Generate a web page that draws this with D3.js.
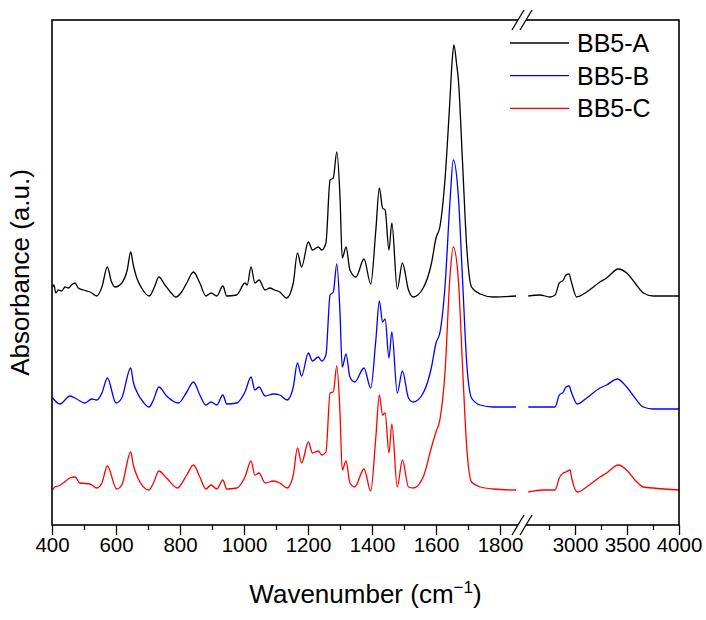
<!DOCTYPE html>
<html>
<head>
<meta charset="utf-8">
<script src="https://cdn.jsdelivr.net/npm/d3@7"></script>
<style>
  body { margin: 0; background: #fff; }
  svg { display: block; font-family: "Liberation Sans", Arial, sans-serif; }
</style>
</head>
<body>
<svg id="chart" width="706" height="620"></svg>
<script>
// series names + colours
const seriesNames = ["BB5-A", "BB5-B", "BB5-C"];
const seriesColors = ["#000000", "#0000ff", "#ff0000"];

// [wavenumber, absorbance (offset, a.u.)]
// low range 400-1850
const bb5aLow = [[402,2.38],[406,2.40],[412,2.32],[420,2.35],[430,2.34],[441,2.38],[451,2.37],[461,2.40],[472,2.42],[482,2.37],[498,2.35],[519,2.33],[540,2.29],[556,2.38],[573,2.58],[585,2.44],[597,2.38],[618,2.42],[635,2.55],[646,2.73],[654,2.60],[665,2.47],[680,2.37],[704,2.29],[720,2.38],[734,2.48],[753,2.40],[770,2.33],[787,2.28],[805,2.33],[821,2.42],[842,2.53],[862,2.42],[881,2.29],[897,2.32],[915,2.29],[934,2.39],[946,2.29],[977,2.30],[1003,2.42],[1010,2.40],[1022,2.58],[1034,2.42],[1047,2.45],[1066,2.35],[1081,2.37],[1095,2.35],[1112,2.33],[1133,2.27],[1154,2.42],[1167,2.72],[1180,2.58],[1201,2.83],[1214,2.75],[1232,2.78],[1243,2.75],[1256,2.82],[1269,3.45],[1279,3.47],[1290,3.73],[1300,3.28],[1307,2.67],[1319,2.78],[1331,2.55],[1350,2.48],[1375,2.66],[1396,2.41],[1412,2.95],[1423,3.37],[1433,3.17],[1441,3.15],[1453,2.75],[1462,3.02],[1479,2.36],[1495,2.62],[1514,2.35],[1529,2.28],[1560,2.37],[1586,2.62],[1600,2.87],[1612,2.98],[1628,3.45],[1644,4.28],[1650,4.62],[1656,4.80],[1664,4.62],[1670,4.45],[1683,3.62],[1696,2.78],[1711,2.38],[1738,2.31],[1779,2.28],[1850,2.29]];
const bb5bLow = [[402,1.27],[425,1.21],[456,1.29],[477,1.26],[503,1.22],[524,1.26],[540,1.25],[556,1.32],[573,1.47],[600,1.22],[618,1.27],[646,1.57],[654,1.43],[667,1.32],[685,1.23],[703,1.18],[717,1.25],[734,1.38],[758,1.29],[795,1.22],[821,1.33],[842,1.43],[862,1.30],[881,1.20],[897,1.23],[915,1.20],[934,1.30],[946,1.21],[977,1.22],[1003,1.33],[1022,1.48],[1034,1.35],[1047,1.38],[1066,1.29],[1092,1.31],[1112,1.30],[1135,1.25],[1154,1.38],[1167,1.62],[1180,1.49],[1201,1.72],[1214,1.64],[1232,1.68],[1243,1.64],[1256,1.70],[1269,2.30],[1279,2.33],[1290,2.61],[1300,2.12],[1307,1.58],[1319,1.71],[1331,1.48],[1346,1.43],[1375,1.57],[1396,1.37],[1412,1.85],[1423,2.24],[1433,2.03],[1441,2.06],[1453,1.67],[1462,1.93],[1479,1.32],[1495,1.54],[1514,1.27],[1529,1.23],[1560,1.32],[1586,1.58],[1600,1.82],[1612,1.92],[1628,2.38],[1644,3.25],[1654,3.65],[1670,3.28],[1683,2.45],[1696,1.62],[1711,1.27],[1738,1.20],[1779,1.18],[1850,1.18]];
const bb5cLow = [[402,0.35],[409,0.38],[420,0.39],[435,0.42],[456,0.47],[472,0.48],[487,0.42],[519,0.41],[540,0.37],[556,0.42],[573,0.59],[602,0.36],[618,0.40],[646,0.73],[654,0.60],[667,0.48],[703,0.35],[717,0.42],[734,0.54],[758,0.47],[792,0.37],[821,0.50],[842,0.60],[862,0.48],[881,0.36],[897,0.40],[915,0.36],[934,0.45],[946,0.36],[977,0.37],[1003,0.48],[1022,0.64],[1034,0.50],[1047,0.52],[1066,0.42],[1092,0.44],[1112,0.42],[1135,0.37],[1154,0.50],[1167,0.77],[1180,0.62],[1201,0.83],[1214,0.72],[1232,0.74],[1243,0.70],[1256,0.73],[1269,1.32],[1279,1.33],[1290,1.59],[1300,1.12],[1307,0.55],[1319,0.64],[1331,0.42],[1346,0.38],[1375,0.56],[1396,0.34],[1412,0.88],[1423,1.30],[1433,1.10],[1441,1.12],[1453,0.72],[1462,1.01],[1479,0.38],[1495,0.65],[1514,0.38],[1529,0.37],[1560,0.48],[1586,0.78],[1600,0.93],[1612,1.05],[1628,1.52],[1644,2.50],[1654,2.78],[1670,2.45],[1683,1.58],[1696,0.78],[1711,0.43],[1738,0.38],[1779,0.36],[1850,0.35]];

// high range 2500-4000
const bb5aHigh = [[2551,2.29],[2663,2.30],[2760,2.28],[2808,2.30],[2849,2.42],[2888,2.45],[2913,2.50],[2942,2.51],[2968,2.42],[3016,2.28],[3112,2.33],[3240,2.43],[3304,2.47],[3416,2.56],[3497,2.52],[3577,2.42],[3657,2.32],[3753,2.29],[4000,2.29]];
const bb5bHigh = [[2551,1.18],[2695,1.18],[2808,1.18],[2849,1.30],[2888,1.33],[2913,1.38],[2942,1.39],[2968,1.32],[3022,1.21],[3112,1.27],[3240,1.37],[3304,1.40],[3407,1.46],[3497,1.38],[3577,1.27],[3657,1.18],[3753,1.16],[4000,1.16]];
const bb5cHigh = [[2551,0.33],[2695,0.35],[2808,0.35],[2849,0.47],[2888,0.52],[2913,0.53],[2952,0.55],[2968,0.47],[3022,0.33],[3112,0.38],[3240,0.48],[3304,0.52],[3416,0.60],[3497,0.55],[3577,0.45],[3657,0.38],[3753,0.37],[4000,0.35]];

// ticks
const lowMajor = [400, 600, 800, 1000, 1200, 1400, 1600, 1800];
const lowMinor = [500, 700, 900, 1100, 1300, 1500, 1700];
const highMajor = [3000, 3500, 4000];
const highMinor = [2750, 3250, 3750];

const plotLeft = 52, plotRight = 679, plotTop = 20, plotBottom = 525;
const breakX = 522;

const svg = d3.select("#chart");

const xLow = d3.scaleLinear().domain([400, 1850]).range([plotLeft, 516]);
const xHigh = d3.scaleLinear().domain([2500, 4000]).range([523, plotRight]);
const y = d3.scaleLinear().domain([0, 5.05]).range([plotBottom, plotTop]);

// spectra
const lowSets = [bb5aLow, bb5bLow, bb5cLow];
const highSets = [bb5aHigh, bb5bHigh, bb5cHigh];

const lineLow = d3.line().x(d => xLow(d[0])).y(d => y(d[1])).curve(d3.curveMonotoneX);
const lineHigh = d3.line().x(d => xHigh(d[0])).y(d => y(d[1])).curve(d3.curveMonotoneX);

const plot = svg.append("g").attr("class", "spectra");
plot.selectAll(".low")
  .data(lowSets)
  .join("path")
  .attr("class", "low")
  .attr("d", lineLow)
  .attr("fill", "none")
  .attr("stroke", (d, i) => seriesColors[i])
  .attr("stroke-width", 1.3);
plot.selectAll(".high")
  .data(highSets)
  .join("path")
  .attr("class", "high")
  .attr("d", lineHigh)
  .attr("fill", "none")
  .attr("stroke", (d, i) => seriesColors[i])
  .attr("stroke-width", 1.3);

// axes
function addAxis(scale, major, minor) {
  const gMaj = svg.append("g")
    .attr("transform", `translate(0,${plotBottom})`)
    .call(d3.axisBottom(scale).tickValues(major).tickSize(10).tickPadding(2).tickFormat(d3.format("d")));
  const gMin = svg.append("g")
    .attr("transform", `translate(0,${plotBottom})`)
    .call(d3.axisBottom(scale).tickValues(minor).tickSize(5).tickFormat(""));
  [gMaj, gMin].forEach(g => {
    g.select(".domain").remove();
    g.selectAll("line").attr("stroke", "#000").attr("stroke-width", 1.3);
  });
  gMaj.selectAll("text")
    .attr("fill", "#000")
    .style("font-size", "20.5px")
    .style("font-family", '"Liberation Sans", Arial, sans-serif');
}
addAxis(xLow, lowMajor, lowMinor);
addAxis(xHigh, highMajor, highMinor);

// frame
svg.append("rect")
  .attr("x", plotLeft).attr("y", plotTop)
  .attr("width", plotRight - plotLeft).attr("height", plotBottom - plotTop)
  .attr("fill", "none").attr("stroke", "#000").attr("stroke-width", 1.6);

// axis break marks (top and bottom)
[plotTop, plotBottom].forEach(yy => {
  svg.append("polygon")
    .attr("points", `${breakX - 10},${yy + 10} ${breakX + 2},${yy - 10} ${breakX + 10},${yy - 10} ${breakX - 2},${yy + 10}`)
    .attr("fill", "#fff");
  [-10, -2].forEach(dx => {
    svg.append("line")
      .attr("x1", breakX + dx).attr("y1", yy + 10)
      .attr("x2", breakX + dx + 12).attr("y2", yy - 10)
      .attr("stroke", "#000").attr("stroke-width", 1.3);
  });
});

// axis titles
svg.append("text")
  .attr("transform", `translate(29,${(plotTop + plotBottom) / 2}) rotate(-90)`)
  .attr("text-anchor", "middle")
  .style("font-size", "26px")
  .text("Absorbance (a.u.)");

const xt = svg.append("text")
  .attr("x", (plotLeft + plotRight) / 2)
  .attr("y", 603)
  .attr("text-anchor", "middle")
  .style("font-size", "26px");
xt.append("tspan").text("Wavenumber (cm");
xt.append("tspan").attr("dy", -10).style("font-size", "17px").text("\u22121");
xt.append("tspan").attr("dy", 10).text(")");

// legend
const legend = svg.append("g").attr("class", "legend");
const rows = legend.selectAll("g")
  .data(seriesNames)
  .join("g")
  .attr("transform", (d, i) => `translate(510,${43 + i * 32.7})`);
rows.append("line")
  .attr("x1", 0).attr("x2", 59)
  .attr("stroke", (d, i) => seriesColors[i])
  .attr("stroke-width", 1.3);
rows.append("text")
  .attr("x", 67).attr("y", 9)
  .style("font-size", "25px")
  .text(d => d);
</script>
</body>
</html>
